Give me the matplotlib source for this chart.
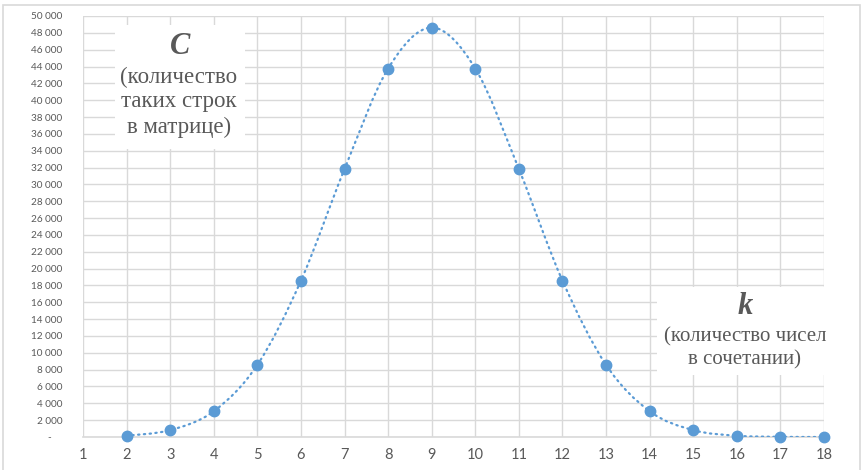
import matplotlib
matplotlib.use("Agg")
import matplotlib.pyplot as plt
from matplotlib.path import Path
from matplotlib.patches import PathPatch, Rectangle
from matplotlib.ticker import FuncFormatter, MultipleLocator

# k (numbers in a combination) and C (number of such rows in the matrix)
k_values = [2, 3, 4, 5, 6, 7, 8, 9, 10, 11, 12, 13, 14, 15, 16, 17, 18]
c_values = [153, 816, 3060, 8568, 18564, 31824, 43758, 48620, 43758,
            31824, 18564, 8568, 3060, 816, 153, 18, 1]
x_ticks = list(range(1, 19))

BLUE = "#5b9bd5"
GRID = "#d9d9d9"
TXT = "#595959"


def smooth_path(xs, ys):
    # cubic Bezier through the points, tangents from neighbours (Catmull-Rom style)
    n = len(xs)
    verts = [(xs[0], ys[0])]
    codes = [Path.MOVETO]
    for i in range(n - 1):
        x0, y0 = xs[max(i - 1, 0)], ys[max(i - 1, 0)]
        x1, y1 = xs[i], ys[i]
        x2, y2 = xs[i + 1], ys[i + 1]
        x3, y3 = xs[min(i + 2, n - 1)], ys[min(i + 2, n - 1)]
        c1 = (x1 + (x2 - x0) / 6, y1 + (y2 - y0) / 6)
        c2 = (x2 - (x3 - x1) / 6, y2 - (y3 - y1) / 6)
        verts += [c1, c2, (x2, y2)]
        codes += [Path.CURVE4] * 3
    return Path(verts, codes)


def fmt_thousands(v, pos):
    if v == 0:
        return "-    "
    return f"{int(v):,}".replace(",", " ")


fig = plt.figure(figsize=(8.62, 4.70), dpi=100)
fig.patches.append(Rectangle((3 / 862, -0.1), 857 / 862, 1.09, transform=fig.transFigure,
                             fill=False, edgecolor=GRID, lw=1.2))

ax = fig.add_axes([83 / 862, 1 - 437 / 470, (824 - 83) / 862, (437 - 16) / 470])
ax.set_xlim(1, 18)
ax.set_ylim(0, 50000)
ax.yaxis.set_major_locator(MultipleLocator(2000))
ax.set_xticks(x_ticks)
ax.yaxis.set_major_formatter(FuncFormatter(fmt_thousands))
ax.grid(True, color=GRID, lw=1.0)
ax.set_axisbelow(True)
for s in ["top", "right", "left"]:
    ax.spines[s].set_visible(False)
ax.spines["bottom"].set_color(GRID)
ax.spines["bottom"].set_linewidth(1.2)
ax.tick_params(length=0, colors=TXT)
ax.tick_params(axis="y", labelsize=7.2, pad=15)
ax.tick_params(axis="x", labelsize=10.5, pad=8)
for lab in ax.get_xticklabels() + ax.get_yticklabels():
    lab.set_family("Lato")

curve = PathPatch(smooth_path(k_values, c_values), fill=False, edgecolor=BLUE,
                  lw=1.6, linestyle=(0, (0.6, 2.0)), capstyle="round", zorder=3)
ax.add_patch(curve)
ax.plot(k_values, c_values, "o", color=BLUE, ms=7.5, zorder=4, clip_on=False)

# white label boxes over the grid
serif = "Liberation Serif"
for (x0, y0, x1, y1) in [(115, 25, 245, 149), (657, 287, 830, 375)]:
    fig.patches.append(Rectangle((x0 / 862, 1 - y1 / 470), (x1 - x0) / 862, (y1 - y0) / 470,
                                 transform=fig.transFigure, facecolor="white",
                                 edgecolor="none", zorder=5))

fig.text(180 / 862, 1 - 46 / 470, "C", family=serif, fontsize=22, weight="bold",
         style="italic", color=TXT, ha="center", va="center", zorder=6)
for i, line in enumerate(["(количество", "таких строк", "в матрице)"]):
    fig.text(179 / 862, 1 - (77 + 25 * i) / 470, line, family=serif, fontsize=16.5,
             color=TXT, ha="center", va="center", zorder=6)

fig.text(745 / 862, 1 - 306 / 470, "k", family=serif, fontsize=22, weight="bold",
         style="italic", color=TXT, ha="center", va="center", zorder=6)
for i, line in enumerate(["(количество чисел", "в сочетании)"]):
    fig.text(745 / 862, 1 - (337 + 23 * i) / 470, line, family=serif, fontsize=15,
             color=TXT, ha="center", va="center", zorder=6)

fig.savefig("out.png", dpi=100)
